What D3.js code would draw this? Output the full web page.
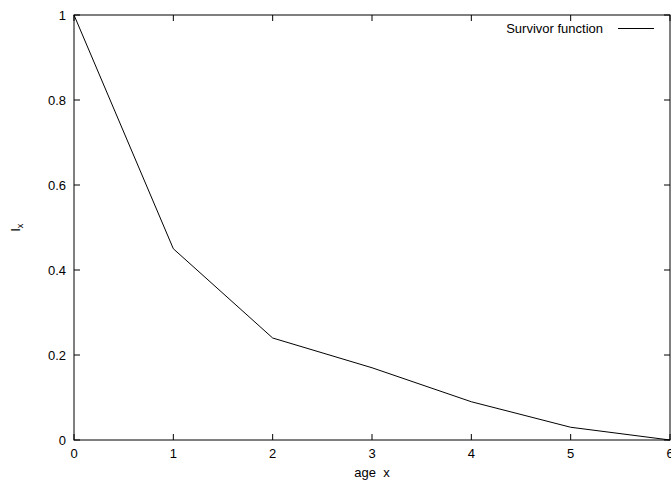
<!DOCTYPE html>
<html><head><meta charset="utf-8">
<script src="https://cdn.jsdelivr.net/npm/d3@7"></script>
<style>body{margin:0;background:#fff}svg{display:block}text{font-family:"Liberation Sans",Arial,sans-serif;font-size:13px;fill:#000;white-space:pre}</style>
</head><body>
<script>
const ages = [0, 1, 2, 3, 4, 5, 6];
const survivor = [1, 0.45, 0.24, 0.17, 0.09, 0.03, 0];
const xTicks = [0, 1, 2, 3, 4, 5, 6];
const yTicks = [0, 0.2, 0.4, 0.6, 0.8, 1];
const seriesName = "Survivor function";

const W = 671, H = 482;
const m = {l: 74, r: 1, t: 15, b: 42};
const svg = d3.select("body").append("svg").attr("width", W).attr("height", H);
const x = d3.scaleLinear().domain([0, 6]).range([m.l, W - m.r]);
const y = d3.scaleLinear().domain([0, 1]).range([H - m.b, m.t]);
const tl = 6;

const g = svg.append("g");
xTicks.forEach(v => {
  g.append("line").attr("x1", x(v)).attr("x2", x(v)).attr("y1", y(0)).attr("y2", y(0) - tl).attr("stroke", "#000");
  g.append("line").attr("x1", x(v)).attr("x2", x(v)).attr("y1", y(1)).attr("y2", y(1) + tl).attr("stroke", "#000");
  g.append("text").attr("x", x(v)).attr("y", y(0) + 18).attr("text-anchor", "middle").text(d3.format("d")(v));
});
yTicks.forEach(v => {
  g.append("line").attr("x1", x(0)).attr("x2", x(0) + tl).attr("y1", y(v)).attr("y2", y(v)).attr("stroke", "#000");
  g.append("line").attr("x1", x(6)).attr("x2", x(6) - tl).attr("y1", y(v)).attr("y2", y(v)).attr("stroke", "#000");
  g.append("text").attr("x", x(0) - 8).attr("y", y(v) + 5).attr("text-anchor", "end").text(v === 0 || v === 1 ? String(v) : v.toFixed(1));
});
g.append("rect").attr("x", x(0)).attr("y", y(1)).attr("width", x(6) - x(0)).attr("height", y(0) - y(1))
  .attr("fill", "none").attr("stroke", "#000");

svg.append("path").datum(ages.map((a, i) => [a, survivor[i]]))
  .attr("d", d3.line().x(d => x(d[0])).y(d => y(d[1])))
  .attr("fill", "none").attr("stroke", "#000").attr("stroke-width", 1);

svg.append("text").attr("x", (x(0) + x(6)) / 2).attr("y", 477).attr("text-anchor", "middle").text("age  x");
const yl = svg.append("text").attr("transform", `translate(20,${(y(0) + y(1)) / 2}) rotate(-90)`).attr("text-anchor", "middle");
yl.append("tspan").text("l");
yl.append("tspan").attr("dy", 3).attr("font-size", "9px").text("x");

svg.append("text").attr("x", 603).attr("y", 33).attr("text-anchor", "end").text(seriesName);
svg.append("line").attr("x1", 618).attr("x2", 654).attr("y1", 28.5).attr("y2", 28.5).attr("stroke", "#000");
</script>
</body></html>
